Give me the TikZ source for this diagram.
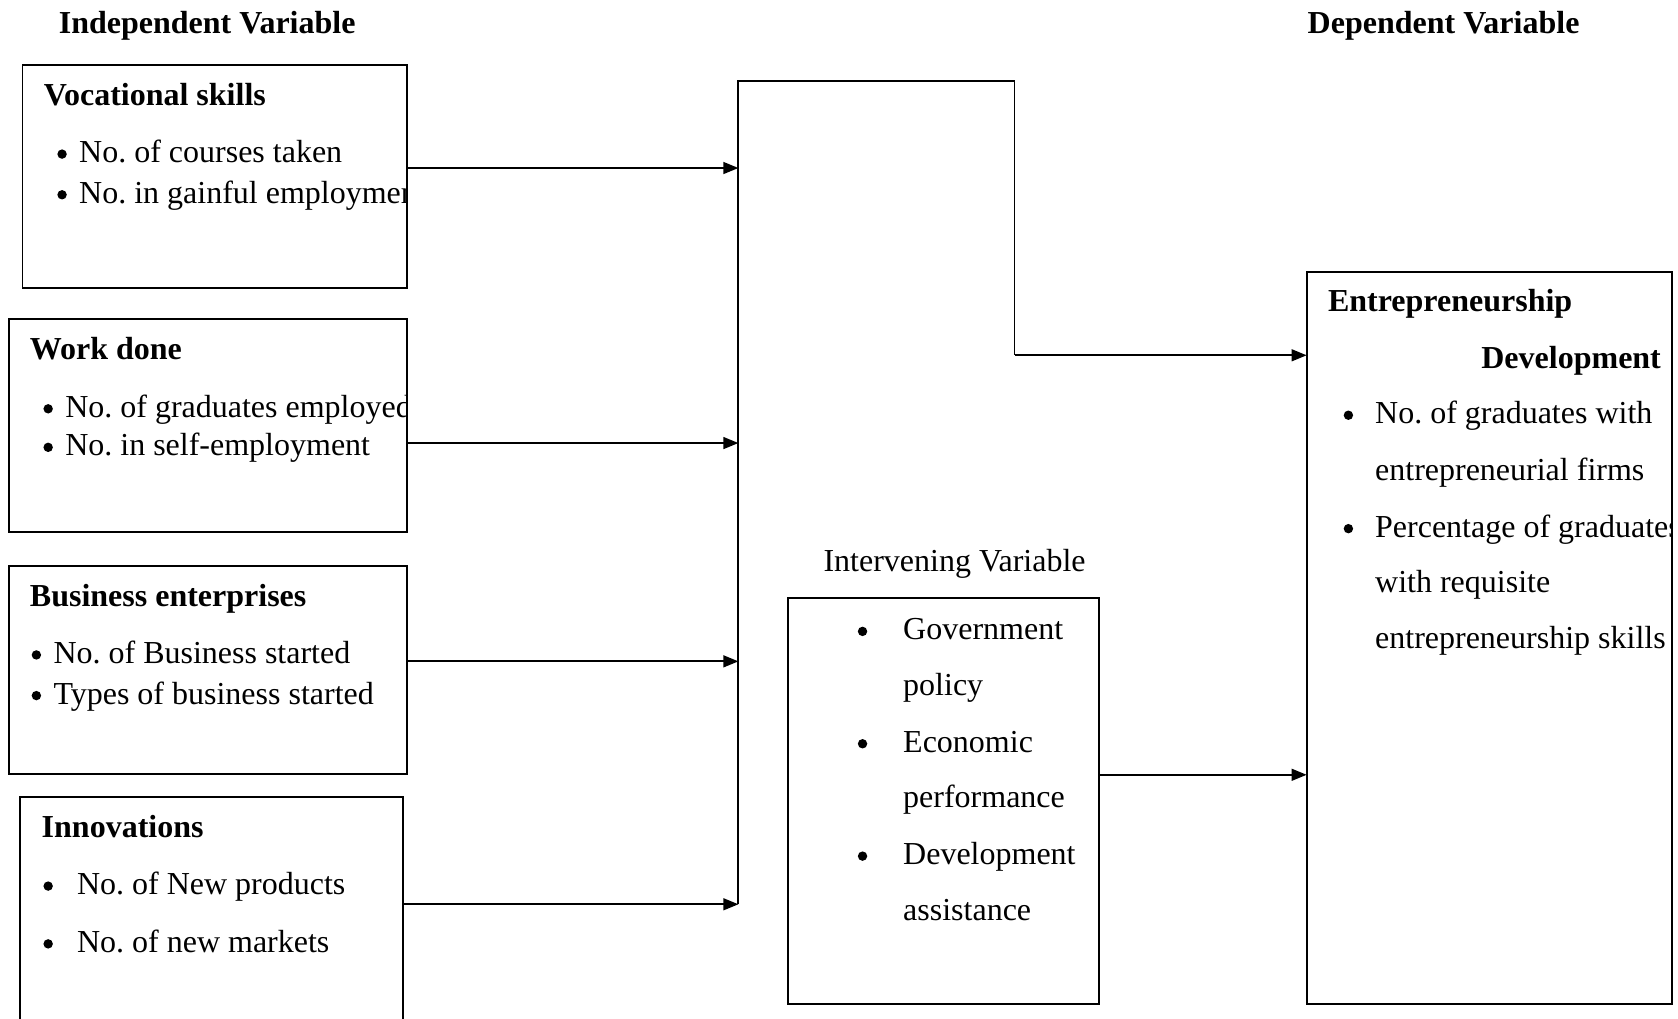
\documentclass[tikz,border=0pt]{standalone}
\usepackage{fontspec}
\setmainfont{Liberation Serif}
\usetikzlibrary{arrows.meta,fit}
\frenchspacing
\tikzset{
  every node/.style={font=\fontsize{14.95}{18}\selectfont, inner sep=0pt, outer sep=0pt},
  box/.style={draw, line width=0.9pt, inner sep=0pt},
  txt/.style={anchor=base west},
  hd/.style={anchor=base west, font=\fontsize{14.95}{18}\selectfont\bfseries},
  dot/.style={circle, fill=black, minimum size=4.4pt},
  conn/.style={line width=0.9pt},
  arr/.style={line width=0.9pt, -{Triangle[length=7pt,width=5.5pt]}}
}
\begin{document}
\begin{tikzpicture}[x=0.5pt,y=-0.5pt]
\useasboundingbox (0,0) rectangle (1568,952);
\clip (0,0) rectangle (1568,952);

% headings
\node[hd] (ih) at (55,31) {Independent Variable};
\node[hd] (dh) at (1222,31) {Dependent Variable};

% boxes
\node[box, fit={(21,61) (380,269)}] (b1) {};
\node[box, fit={(8,298) (380,497)}] (b2) {};
\node[box, fit={(8,529) (380,723)}] (b3) {};
\node[box, fit={(19,745) (377,975)}] (b4) {};
\node[box, fit={(736,559) (1027,938)}] (iv) {};
\node[box, fit={(1221,254) (1562,938)}] (ed) {};

% box 1
\begin{scope}
\clip (b1.south west) rectangle (b1.north east);
\node[hd] (t1) at (41,99) {Vocational skills};
\node[dot] (t1a) at (58,144) {};
\node[txt] (t1b) at (74,152) {No. of courses taken};
\node[dot] (t1c) at (58,182) {};
\node[txt] (t1d) at (74,190) {No. in gainful employment};
\end{scope}

% box 2
\begin{scope}
\clip (b2.south west) rectangle (b2.north east);
\node[hd] (t2) at (28,336) {Work done};
\node[dot] (t2a) at (45,382) {};
\node[txt] (t2b) at (61,390) {No. of graduates employed};
\node[dot] (t2c) at (45,418) {};
\node[txt] (t2d) at (61,426) {No. in self-employment};
\end{scope}

% box 3
\node[hd] (t3) at (28,567) {Business enterprises};
\node[dot] (t3a) at (34,612) {};
\node[txt] (t3b) at (50,620) {No. of Business started};
\node[dot] (t3c) at (34,650) {};
\node[txt] (t3d) at (50,658) {Types of business started};

% box 4
\node[hd] (t4) at (39,783) {Innovations};
\node[dot] (t4a) at (45,828) {};
\node[txt] (t4b) at (72,836) {No. of New products};
\node[dot] (t4c) at (45,882) {};
\node[txt] (t4d) at (72,890) {No. of new markets};

% intervening
\node[anchor=base] (ivl) at (892,534) {Intervening Variable};
\node[dot] (i1) at (806,590) {};
\node[txt] (i2) at (844,598) {Government};
\node[txt] (i3) at (844,650) {policy};
\node[dot] (i4) at (806,695) {};
\node[txt] (i5) at (844,703) {Economic};
\node[txt] (i6) at (844,755) {performance};
\node[dot] (i7) at (806,800) {};
\node[txt] (i8) at (844,808) {Development};
\node[txt] (i9) at (844,860) {assistance};

% dependent
\begin{scope}
\clip (ed.south west) rectangle (ed.north east);
\node[hd] (e1) at (1241,291) {Entrepreneurship};
\node[hd, anchor=base east] (e2) at (1552,344) {Development};
\node[dot] (e3) at (1260,388) {};
\node[txt] (e4) at (1285,396) {No. of graduates with};
\node[txt] (e5) at (1285,449) {entrepreneurial firms};
\node[dot] (e6) at (1260,494) {};
\node[txt] (e7) at (1285,502) {Percentage of graduates};
\node[txt] (e8) at (1285,554) {with requisite};
\node[txt] (e9) at (1285,606) {entrepreneurship skills};
\end{scope}

% connectors
\coordinate (j1) at (690,157);
\coordinate (j2) at (690,414);
\coordinate (j3) at (690,618);
\coordinate (j4) at (690,845);
\coordinate (c1) at (690,76);
\coordinate (c2) at (948,76);
\coordinate (c3) at (948,332);
\coordinate (k1) at (1027,724);

\draw[arr] (b1.east |- j1) -- (j1);
\draw[arr] (b2.east |- j2) -- (j2);
\draw[arr] (b3.east |- j3) -- (j3);
\draw[arr] (b4.east |- j4) -- (j4);
\draw[conn] (j4) -- (c1) -- (c2) -- (c3);
\draw[arr] (c3) -- (ed.west |- c3);
\draw[arr] (iv.east |- k1) -- (ed.west |- k1);
\end{tikzpicture}
\end{document}
